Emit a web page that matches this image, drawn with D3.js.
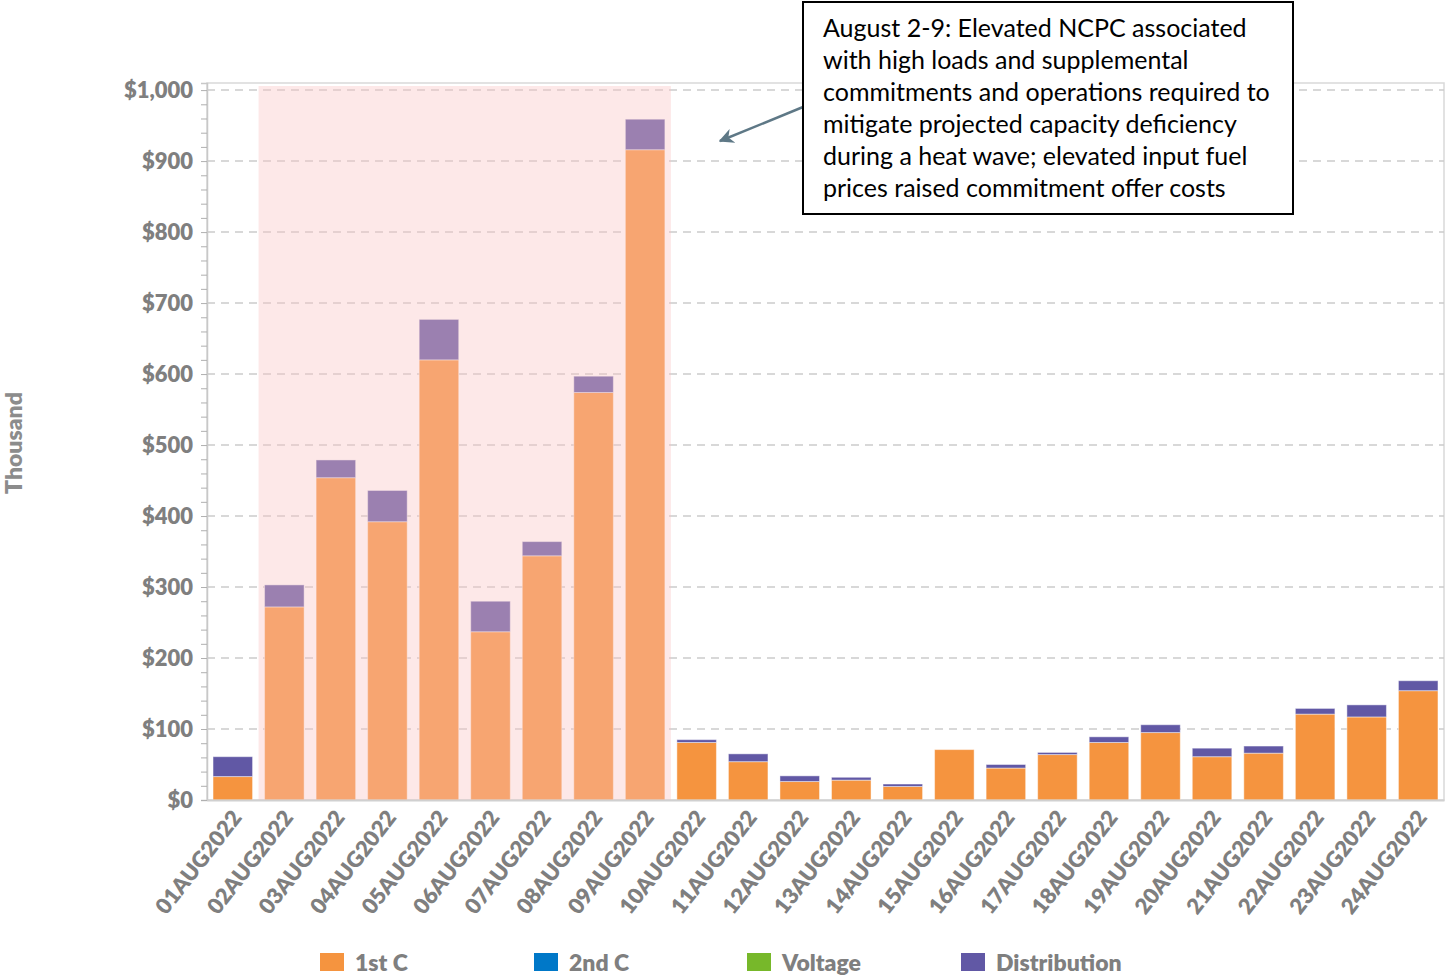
<!DOCTYPE html>
<html>
<head>
<meta charset="utf-8">
<script src="https://cdn.jsdelivr.net/npm/d3@7"></script>
<style>
  html, body { margin: 0; padding: 0; background: #fff; }
  svg { display: block; font-family: Lato, "Open Sans", sans-serif; }
</style>
</head>
<body>
<svg id="chart" width="1445" height="976"></svg>
<script>
const dates = ["01AUG2022","02AUG2022","03AUG2022","04AUG2022","05AUG2022","06AUG2022","07AUG2022","08AUG2022","09AUG2022","10AUG2022","11AUG2022","12AUG2022","13AUG2022","14AUG2022","15AUG2022","16AUG2022","17AUG2022","18AUG2022","19AUG2022","20AUG2022","21AUG2022","22AUG2022","23AUG2022","24AUG2022"];
const firstC       = [33, 272, 454, 392, 620, 237, 344, 574, 916, 81, 54, 26, 28, 19, 71, 45, 64, 81, 95, 61, 66, 121, 117, 154];
const secondC      = [0, 0, 0, 0, 0, 0, 0, 0, 0, 0, 0, 0, 0, 0, 0, 0, 0, 0, 0, 0, 0, 0, 0, 0];
const voltage      = [0, 0, 0, 0, 0, 0, 0, 0, 0, 0, 0, 0, 0, 0, 0, 0, 0, 0, 0, 0, 0, 0, 0, 0];
const distribution = [28, 31, 25, 44, 57, 43, 20, 23, 43, 4, 11, 8, 4, 3.5, 0, 5, 3, 8, 11, 12, 10, 8, 17, 14];
const seriesNames  = ["1st C", "2nd C", "Voltage", "Distribution"];
const seriesColors = ["#F5943F", "#0078C8", "#77B82A", "#6158A5"];
const yTicks = [0, 100, 200, 300, 400, 500, 600, 700, 800, 900, 1000];
const yMax = 1010;
const shadeStart = "02AUG2022", shadeEnd = "09AUG2022";
const noteLines = [
  "August 2-9: Elevated NCPC associated",
  "with high loads and supplemental",
  "commitments and operations required to",
  "mitigate projected capacity deficiency",
  "during a heat wave; elevated input fuel",
  "prices raised commitment offer costs"
];
const yTitle = "Thousand";

const svg = d3.select("#chart");
const L = 207, R = 1444, T = 83, B = 800;

const x = d3.scaleBand().domain(dates).range([L, R]).paddingInner(0.233).paddingOuter(0.117);
const y = d3.scaleLinear().domain([0, yMax]).range([B, T]);

const table = dates.map((d, i) => ({
  date: d, "1st C": firstC[i], "2nd C": secondC[i], "Voltage": voltage[i], "Distribution": distribution[i]
}));
const stacked = d3.stack().keys(seriesNames)(table);

// frame
svg.append("rect").attr("x", L).attr("y", T).attr("width", R - L).attr("height", B - T)
  .attr("fill", "none").attr("stroke", "#d9d9d9").attr("stroke-width", 1.5);

// grid lines
svg.append("g").selectAll("line").data(yTicks.filter(v => v > 0)).join("line")
  .attr("x1", L).attr("x2", R).attr("y1", d => y(d)).attr("y2", d => y(d))
  .attr("stroke", "#cccccc").attr("stroke-width", 1.5).attr("stroke-dasharray", "8,6");

// bars
const color = d3.scaleOrdinal().domain(seriesNames).range(seriesColors);
svg.append("g").selectAll("g").data(stacked).join("g")
  .attr("fill", d => color(d.key))
  .selectAll("rect").data(d => d.filter(p => p[1] - p[0] > 0)).join("rect")
  .attr("x", d => x(d.data.date))
  .attr("width", x.bandwidth())
  .attr("y", d => y(d[1]))
  .attr("height", d => y(d[0]) - y(d[1]))
  .attr("stroke", "rgba(255,255,255,0.45)").attr("stroke-width", 1);

// shaded highlight region (overlay)
const step = x.step(), gap = step * x.paddingInner();
svg.append("rect")
  .attr("x", x(shadeStart) - gap / 2)
  .attr("width", x(shadeEnd) + x.bandwidth() + gap / 2 - (x(shadeStart) - gap / 2))
  .attr("y", 86).attr("height", B - 86)
  .attr("fill", "rgb(250,195,195)").attr("fill-opacity", 0.38);

// y axis
const yAxis = d3.axisLeft(y).tickValues(yTicks).tickSize(6).tickPadding(8)
  .tickFormat(d => "$" + d3.format(",")(d));
const gy = svg.append("g").attr("transform", `translate(${L},0)`).call(yAxis);
gy.select(".domain").attr("stroke", "#c8c8c8").attr("stroke-width", 1.5);
gy.selectAll(".tick line").attr("stroke", "#b0b0b0");
gy.selectAll("text").attr("fill", "#7f7f7f").attr("font-size", 22).attr("font-weight", 800)
  .attr("font-family", "Lato, sans-serif");
// minor ticks
const yMinor = d3.axisLeft(y).tickValues(d3.range(20, 1001, 20).filter(v => v % 100 !== 0)).tickSize(6).tickFormat("");
const gym = svg.append("g").attr("transform", `translate(${L},0)`).call(yMinor);
gym.select(".domain").remove();
gym.selectAll(".tick line").attr("stroke", "#b0b0b0");

// x axis
const xAxis = d3.axisBottom(x).tickSize(0).tickPadding(0);
const gx = svg.append("g").attr("transform", `translate(0,${B})`).call(xAxis);
gx.select(".domain").attr("stroke", "#d0d0d0").attr("stroke-width", 2);
gx.selectAll("text")
  .attr("fill", "#7f7f7f").attr("font-size", 22).attr("font-weight", 800).attr("font-family", "Lato, sans-serif")
  .attr("text-anchor", "end").attr("dy", null)
  .attr("transform", "translate(10,18) rotate(-52)");

// y title
svg.append("text").attr("transform", "translate(22,443) rotate(-90)")
  .attr("text-anchor", "middle").attr("fill", "#8c8c8c").attr("font-size", 23).attr("font-weight", 800)
  .text(yTitle);

// legend
const legendX = [320, 534, 747, 961];
const lg = svg.append("g").selectAll("g").data(seriesNames).join("g")
  .attr("transform", (d, i) => `translate(${legendX[i]},953)`);
lg.append("rect").attr("width", 24).attr("height", 18).attr("fill", d => color(d));
lg.append("text").attr("x", 35).attr("y", 18).attr("fill", "#7f7f7f")
  .attr("font-size", 23).attr("font-weight", 800).text(d => d);

// annotation arrow
const defs = svg.append("defs");
defs.append("marker").attr("id", "arrow").attr("viewBox", "0 0 10 10").attr("refX", 9).attr("refY", 5)
  .attr("markerWidth", 6).attr("markerHeight", 6).attr("markerUnits", "strokeWidth").attr("orient", "auto")
  .append("path").attr("d", "M0,0 L10,5 L0,10 L3,5 Z").attr("fill", "#5E7886");
svg.append("line").attr("x1", 803).attr("y1", 107).attr("x2", 720).attr("y2", 141)
  .attr("stroke", "#5E7886").attr("stroke-width", 2.5).attr("marker-end", "url(#arrow)");

// annotation box
svg.append("rect").attr("x", 803).attr("y", 2).attr("width", 490).attr("height", 212)
  .attr("fill", "#fff").attr("stroke", "#000").attr("stroke-width", 2);
svg.append("g").selectAll("text").data(noteLines).join("text")
  .attr("x", 823).attr("y", (d, i) => 37 + i * 32)
  .attr("font-size", 25).attr("fill", "#000").attr("font-family", "Lato, sans-serif")
  .text(d => d);
</script>
</body>
</html>
